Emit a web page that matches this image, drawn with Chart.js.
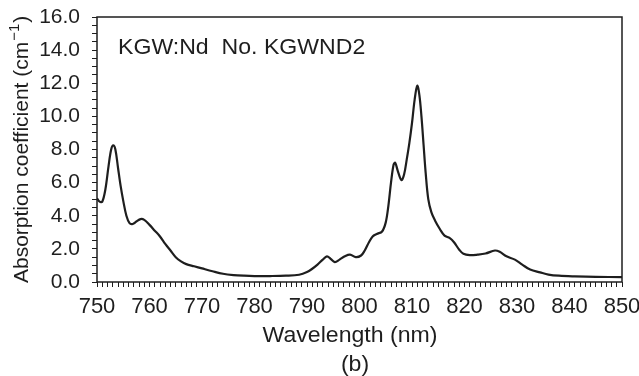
<!DOCTYPE html>
<html>
<head>
<meta charset="utf-8">
<script src="https://cdn.jsdelivr.net/npm/chart.js@4/dist/chart.umd.min.js"></script>
<style>
  html,body{margin:0;padding:0;background:#fff;}
  #wrap{width:639px;height:376px;position:relative;}
</style>
</head>
<body>
<div id="wrap"><canvas id="absChart"></canvas></div>
<script>
/* ---------------- data ---------------- */
const wavelengths=[750.0,750.5,751.0,751.6,752.2,752.7,753.1,753.5,754.0,754.5,755.0,755.6,756.2,756.8,757.5,758.3,759.0,760.0,761.0,762.0,763.0,764.0,765.0,766.0,767.0,768.5,770.0,772.0,774.0,776.0,778.0,780.0,783.0,786.0,788.5,790.0,791.0,792.0,793.0,793.8,794.5,795.3,796.2,797.2,798.2,799.3,800.3,801.0,801.8,802.5,803.3,804.3,805.0,805.5,806.0,806.5,806.8,807.3,808.0,808.5,809.0,809.5,810.0,810.5,811.0,811.4,811.8,812.2,812.6,813.1,813.7,814.4,815.3,816.2,817.2,818.0,819.0,819.8,821.0,822.5,824.0,825.8,826.7,828.0,829.6,831.0,832.5,834.4,836.0,838.0,841.0,845.0,850.0];
const absCoeff=[5.05,4.85,4.85,5.6,7.0,8.0,8.25,8.0,6.9,5.8,4.9,4.0,3.55,3.5,3.65,3.8,3.75,3.45,3.1,2.75,2.3,1.9,1.5,1.25,1.08,0.95,0.82,0.65,0.5,0.42,0.38,0.36,0.36,0.38,0.44,0.6,0.8,1.05,1.35,1.55,1.4,1.2,1.35,1.55,1.65,1.5,1.6,1.9,2.4,2.75,2.9,3.05,3.6,4.6,6.0,7.1,7.2,6.7,6.15,6.5,7.4,8.4,9.6,11.0,11.85,11.3,10.0,8.3,6.6,5.0,4.2,3.7,3.2,2.8,2.65,2.4,1.95,1.7,1.62,1.65,1.72,1.9,1.82,1.55,1.35,1.05,0.75,0.58,0.45,0.38,0.34,0.31,0.3];
const xTickLabels=[750,760,770,780,790,800,810,820,830,840,850];
const yTickLabels=[0,2,4,6,8,10,12,14,16];
const sampleLabel="KGW:Nd  No. KGWND2";
const xTitle="Wavelength (nm)";
const panelLabel="(b)";

const FONT="'Liberation Sans', Arial, sans-serif";
const INK="#1e1e1e";

// draws text slightly widened, like the scanned original
function wideText(ctx,txt,x,y,align){
  const sx=1.05;
  const w=ctx.measureText(txt).width*sx;
  const x0=align==="center"?x-w/2:x;
  ctx.save();
  ctx.translate(x0,y); ctx.scale(sx,1);
  ctx.textAlign="left";
  ctx.fillText(txt,0,0);
  ctx.restore();
}

/* ---------------- frame + texts ---------------- */
const framePlugin={
  id:"frameAndText",
  afterDraw(chart){
    const {ctx,chartArea:a}=chart;
    ctx.save();
    ctx.strokeStyle=INK; ctx.lineWidth=1.5;
    ctx.strokeRect(a.left,a.top,a.right-a.left,a.bottom-a.top);
    ctx.fillStyle=INK;
    ctx.font="22px "+FONT;
    ctx.textBaseline="alphabetic";
    wideText(ctx,sampleLabel,118,54,"left");
    wideText(ctx,xTitle,350,342,"center");
    wideText(ctx,panelLabel,355,371,"center");
    // rotated y title with superscript
    ctx.font="21px "+FONT;
    ctx.translate(28,283);
    ctx.rotate(-Math.PI/2);
    ctx.textAlign="left";
    const main="Absorption coefficient (cm";
    ctx.fillText(main,0,0);
    let w=ctx.measureText(main).width;
    ctx.font="15px "+FONT;
    ctx.fillText("\u22121",w+1,-9);
    w+=ctx.measureText("\u22121").width+2;
    ctx.font="21px "+FONT;
    ctx.fillText(")",w,0);
    ctx.restore();
  }
};

new Chart(document.getElementById("absChart"),{
  type:"line",
  data:{datasets:[{
    data:wavelengths.map((x,i)=>({x,y:absCoeff[i]})),
    borderColor:INK,borderWidth:2.2,pointRadius:0,tension:0.35,fill:false
  }]},
  options:{
    responsive:true,maintainAspectRatio:false,animation:false,
    layout:{padding:{left:0,right:17,top:17,bottom:0}},
    plugins:{legend:{display:false},tooltip:{enabled:false}},
    scales:{
      x:{
        type:"linear",min:750,max:850,
        afterFit(s){s.height=94;s.paddingRight=0;s.paddingLeft=0;},
        border:{display:false},
        grid:{drawOnChartArea:false,drawTicks:true,tickLength:5,color:INK,lineWidth:1},
        ticks:{stepSize:1,autoSkip:false,maxTicksLimit:200,maxRotation:0,padding:7,color:INK,
          font:{family:FONT,size:22},
          callback:v=>xTickLabels.includes(v)?String(v):""}
      },
      y:{
        type:"linear",min:0,max:16,
        afterFit(s){s.width=97;s.paddingTop=0;s.paddingBottom=0;},
        border:{display:false},
        grid:{drawOnChartArea:false,drawTicks:true,tickLength:5,color:INK,lineWidth:1},
        ticks:{stepSize:0.5,autoSkip:false,maxTicksLimit:100,padding:12,color:INK,
          font:{family:FONT,size:21},
          callback:v=>yTickLabels.includes(v)?v.toFixed(1):""}
      }
    }
  },
  plugins:[framePlugin]
});
</script>
</body>
</html>
